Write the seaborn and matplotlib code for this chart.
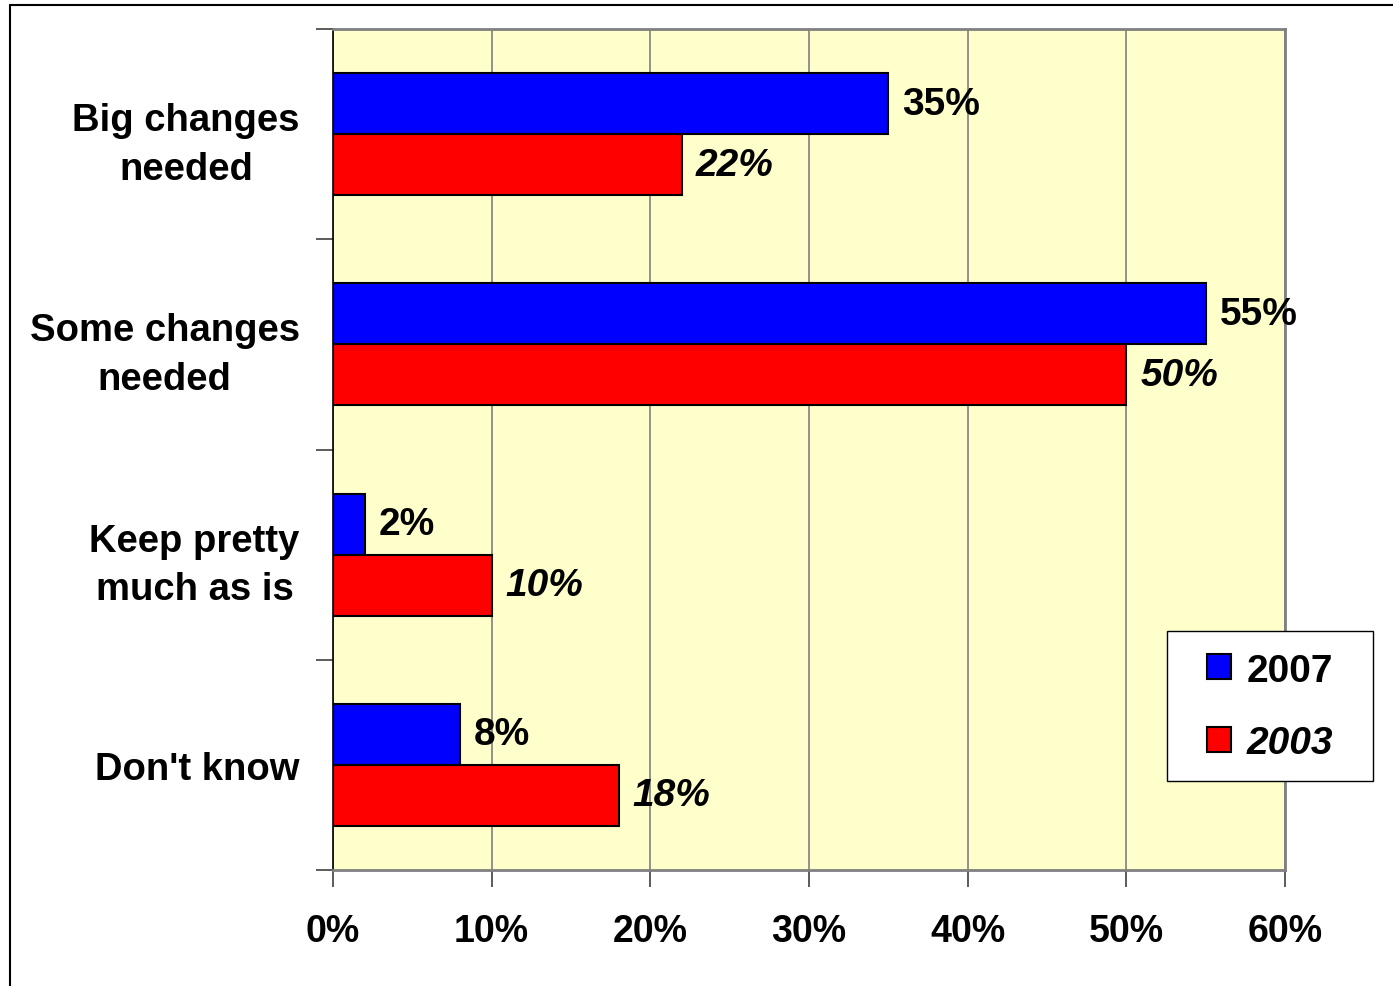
import pandas as pd
import matplotlib
matplotlib.use("Agg")
import matplotlib.pyplot as plt
import seaborn as sns
from matplotlib.patches import Patch, Rectangle
from matplotlib.lines import Line2D

# Data
categories = ["Big changes\nneeded", "Some changes\nneeded", "Keep pretty\nmuch as is", "Don't know"]
years = ["2007", "2003"]
values_2007 = [35, 55, 2, 8]
values_2003 = [22, 50, 10, 18]
x_ticks = [0, 10, 20, 30, 40, 50, 60]

df = pd.DataFrame({
    "category": categories * 2,
    "year": [years[0]] * len(categories) + [years[1]] * len(categories),
    "value": values_2007 + values_2003,
})

sns.set_theme(style="white")
plt.rcParams["font.family"] = ["Liberation Sans", "DejaVu Sans"]
plt.rcParams["font.weight"] = "bold"
plt.rcParams["text.color"] = "black"
plt.rcParams["xtick.color"] = "black"
plt.rcParams["ytick.color"] = "black"

palette = {"2007": "#0000FF", "2003": "#FF0000"}

fig = plt.figure(figsize=(13.93, 9.87), dpi=100)
ax = fig.add_axes([333 / 1393, 1 - 871 / 987, (1285 - 333) / 1393, (871 - 30) / 987])
ax.set_facecolor("#FFFFCC")

sns.barplot(data=df, y="category", x="value", hue="year", palette=palette,
            orient="h", width=0.58, edgecolor="black", linewidth=1.5,
            saturation=1, legend=False, ax=ax, zorder=3)

ax.set_xlim(0, 60)
ax.set_ylim(3.5, -0.5)
ax.set_xticks(x_ticks)
ax.set_xticklabels([f"{t}%" for t in x_ticks], fontsize=27, fontweight="bold", color="black")
ax.tick_params(axis="x", bottom=True, length=12, width=1.2, color="#404040", pad=19, direction="out")
ax.set_yticks(range(len(categories)))
ax.set_yticklabels(categories, fontsize=27.5, fontweight="bold", ha="right", color="black")
for lbl in ax.get_yticklabels():
    lbl.set_multialignment("center")
    lbl.set_linespacing(1.45)
ax.tick_params(axis="y", which="major", left=True, length=0, pad=24)
ax.set_yticks([-0.5, 0.5, 1.5, 2.5, 3.5], minor=True)
ax.tick_params(axis="y", which="minor", left=True, length=12, width=1.2, color="#404040", direction="out")
ax.set_xlabel("")
ax.set_ylabel("")

ax.grid(axis="x", color="#808080", linewidth=1.2, zorder=1)
ax.set_axisbelow(True)
for side in ["top", "right", "bottom"]:
    ax.spines[side].set_color("#808080")
    ax.spines[side].set_linewidth(2)
ax.spines["left"].set_color("black")
ax.spines["left"].set_linewidth(1.2)

# value labels
for container, yr in zip(ax.containers, years):
    style = "normal" if yr == "2007" else "italic"
    ax.bar_label(container, labels=[f"{v:.0f}%" for v in container.datavalues],
                 padding=10, fontsize=28, fontweight="bold", fontstyle=style, color="black")

# legend box
fig.add_artist(Rectangle((1167 / 1393, 1 - 782 / 987), 206 / 1393, 150 / 987,
                         transform=fig.transFigure, facecolor="white",
                         edgecolor="black", linewidth=1, zorder=4))
handles = [Patch(facecolor=palette[y], edgecolor="black", linewidth=1.5) for y in years]
leg = fig.legend(handles, years, loc="center",
                 bbox_to_anchor=(1270 / 1393, 1 - 708 / 987),
                 fontsize=28, frameon=False,
                 handlelength=0.6, handleheight=0.6, handletextpad=0.4,
                 labelspacing=0.95, borderpad=0)
leg.set_zorder(5)
for txt, yr in zip(leg.get_texts(), years):
    txt.set_fontweight("bold")
    txt.set_color("black")
    if yr == "2003":
        txt.set_fontstyle("italic")

# outer frame (top and left edges visible)
fig.add_artist(Line2D([10 / 1393, 1], [1 - 6 / 987, 1 - 6 / 987], color="black", lw=1.5))
fig.add_artist(Line2D([10 / 1393, 10 / 1393], [0, 1 - 6 / 987], color="black", lw=1.5))

fig.savefig("out.png", dpi=100)
